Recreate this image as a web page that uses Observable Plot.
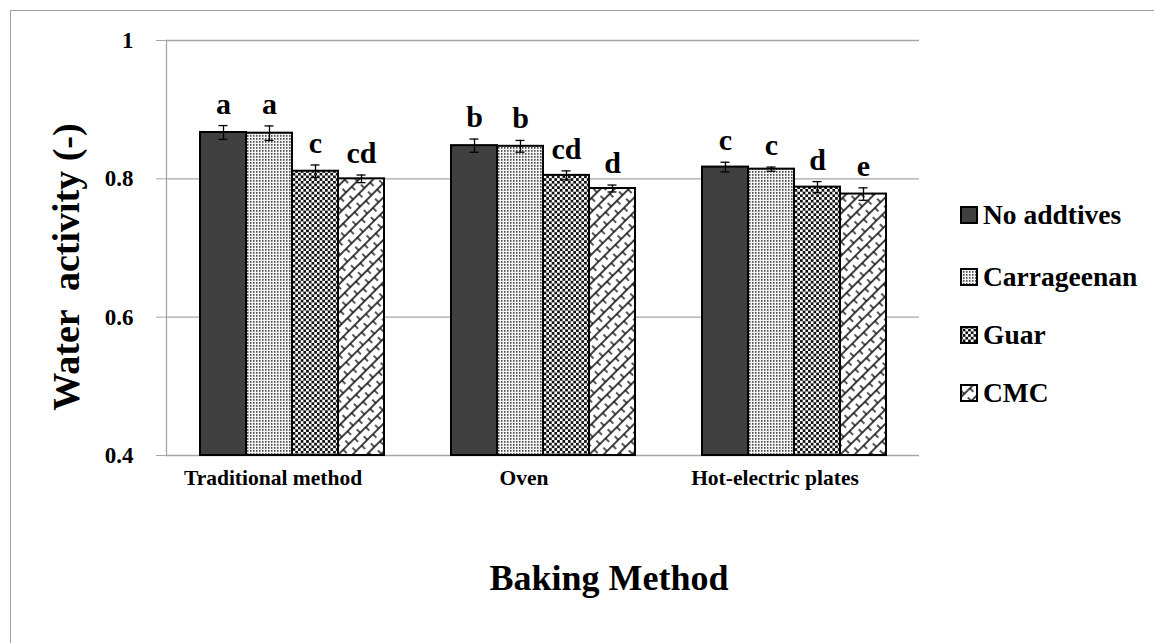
<!DOCTYPE html>
<html><head><meta charset="utf-8">
<script src="https://cdn.jsdelivr.net/npm/d3@7"></script>
<script src="https://cdn.jsdelivr.net/npm/@observablehq/plot@0.6"></script>
<style>
body{margin:0;background:#fff;}
#wrap{position:relative;width:1154px;height:643px;overflow:hidden;font-family:"Liberation Serif","Times New Roman",serif;color:#000;}
#frame{position:absolute;left:10px;top:10px;width:1300px;height:800px;border-left:1px solid #a0a0a0;border-top:1px solid #a0a0a0;}
#chart{position:absolute;left:0;top:0;}
#ytitle{position:absolute;left:66px;top:267px;transform:translate(-50%,-50%) rotate(-90deg);font-size:38px;font-weight:bold;white-space:pre;}
#xtitle{position:absolute;left:609px;top:578px;transform:translate(-50%,-50%);font-size:36px;font-weight:bold;white-space:nowrap;}
#legend{position:absolute;left:960px;top:0;}
.item{position:absolute;left:0;display:flex;align-items:center;white-space:nowrap;font-size:27.5px;font-weight:bold;transform:translateY(-50%);}
.item svg{margin-right:5px;}
</style></head>
<body>
<svg width="0" height="0" style="position:absolute">
  <defs>
    <pattern id="pNo" patternUnits="userSpaceOnUse" width="4" height="4">
      <rect width="4" height="4" fill="#404040"/>
    </pattern>
    <pattern id="pCar" patternUnits="userSpaceOnUse" width="3" height="3">
      <rect width="3" height="3" fill="#f4f4f4"/>
      <rect x="0" y="0" width="1.5" height="1.8" fill="#505050"/>
    </pattern>
    <pattern id="pGuar" patternUnits="userSpaceOnUse" width="5.4" height="5.4">
      <rect width="5.4" height="5.4" fill="#ffffff"/>
      <rect x="0" y="0" width="2.7" height="2.7" fill="#111"/>
      <rect x="2.7" y="2.7" width="2.7" height="2.7" fill="#111"/>
    </pattern>
    <pattern id="pCmc" patternUnits="userSpaceOnUse" width="16" height="10" patternTransform="rotate(-45)">
      <rect width="16" height="10" fill="#ffffff"/>
      <line x1="0" y1="0" x2="16" y2="0" stroke="#111" stroke-width="1.6"/>
      <line x1="0" y1="10" x2="16" y2="10" stroke="#111" stroke-width="1.6"/>
      <line x1="4" y1="0" x2="4" y2="5" stroke="#111" stroke-width="1.4"/>
      <line x1="12" y1="5" x2="12" y2="10" stroke="#111" stroke-width="1.4"/>
    </pattern>
  </defs>
</svg>
<div id="wrap">
  <div id="frame"></div>
  <div id="chart"></div>
  <div id="ytitle">Water  activity (-)</div>
  <div id="xtitle">Baking Method</div>
  <div id="legend"></div>
</div>
<script>
// ---- data ----
const methods = ["Traditional method", "Oven", "Hot-electric plates"];
const additives = ["No addtives", "Carrageenan", "Guar", "CMC"];
const noAdditives = [0.867, 0.848, 0.817];
const carrageenan = [0.866, 0.847, 0.814];
const guar = [0.811, 0.805, 0.788];
const cmc = [0.800, 0.786, 0.778];
const errNoAdditives = [0.010, 0.0095, 0.007];
const errCarrageenan = [0.0105, 0.0085, 0.003];
const errGuar = [0.009, 0.0065, 0.008];
const errCmc = [0.0055, 0.005, 0.009];
const lettersNoAdditives = ["a", "b", "c"];
const lettersCarrageenan = ["a", "b", "c"];
const lettersGuar = ["c", "cd", "d"];
const lettersCmc = ["cd", "d", "e"];
const yTicks = [0.4, 0.6, 0.8, 1];
const yMin = 0.4, yMax = 1;

const patternFills = ["url(#pNo)", "url(#pCar)", "url(#pGuar)", "url(#pCmc)"];

const seriesValues = [noAdditives, carrageenan, guar, cmc];
const seriesErr = [errNoAdditives, errCarrageenan, errGuar, errCmc];
const seriesLetters = [lettersNoAdditives, lettersCarrageenan, lettersGuar, lettersCmc];

const rows = [];
methods.forEach((m, i) => {
  additives.forEach((a, j) => {
    rows.push({method: m, additive: a, value: seriesValues[j][i], err: seriesErr[j][i], letter: seriesLetters[j][i]});
  });
});

const grid = "#a6a6a6";
const plot = Plot.plot({
  width: 1154,
  height: 643,
  marginLeft: 165,
  marginRight: 234,
  marginTop: 40,
  marginBottom: 188,
  style: {background: "transparent", fontFamily: "'Liberation Serif', 'Times New Roman', serif", color: "#000", overflow: "visible"},
  fx: {domain: methods, padding: 0, label: null},
  x: {domain: additives, paddingInner: 0, paddingOuter: 0.7, axis: null},
  y: {domain: [yMin, yMax], axis: null},
  color: {domain: additives, range: patternFills},
  marks: [
    Plot.ruleY(yTicks, {stroke: grid, strokeWidth: 1.3}),
    Plot.frame({anchor: "left", stroke: grid, strokeWidth: 1.3, facetAnchor: "left"}),
    Plot.axisY({ticks: yTicks, tickSize: 10, tickPadding: 23, stroke: grid, fill: "#000", fontSize: 23, fontWeight: "bold",
      tickFormat: d => d === 1 ? "1" : d3.format(".1f")(d), label: null}),
    Plot.axisFx({anchor: "bottom", tickSize: 0, tickPadding: 14, dx: -19, fontSize: 21.5, fontWeight: "bold", label: null}),
    Plot.barY(rows, {fx: "method", x: "additive", y1: yMin, y2: "value", fill: "additive", stroke: "#000", strokeWidth: 2}),
    Plot.ruleX(rows, {fx: "method", x: "additive", y1: d => d.value - d.err, y2: d => d.value + d.err, stroke: "#000", strokeWidth: 1.3}),
    Plot.tickY(rows, {fx: "method", x: "additive", y: d => d.value - d.err, insetLeft: 18.5, insetRight: 18.5, stroke: "#000", strokeWidth: 1.3}),
    Plot.tickY(rows, {fx: "method", x: "additive", y: d => d.value + d.err, insetLeft: 18.5, insetRight: 18.5, stroke: "#000", strokeWidth: 1.3}),
    Plot.text(rows, {fx: "method", x: "additive", y: d => d.value + d.err, text: "letter", dy: -12, lineAnchor: "bottom",
      fontSize: 30, fontWeight: "bold", fill: "#000"})
  ]
});
document.getElementById("chart").appendChild(plot);

// legend
const legend = document.getElementById("legend");
const legendY = [215, 277, 335, 393];
additives.forEach((a, j) => {
  const div = document.createElement("div");
  div.className = "item";
  div.style.top = legendY[j] + "px";
  div.innerHTML = `<svg width="18" height="18"><rect x="1" y="1" width="16" height="16" fill="${patternFills[j]}" stroke="#000" stroke-width="2"/></svg><span>${a}</span>`;
  legend.appendChild(div);
});
</script>
</body></html>
